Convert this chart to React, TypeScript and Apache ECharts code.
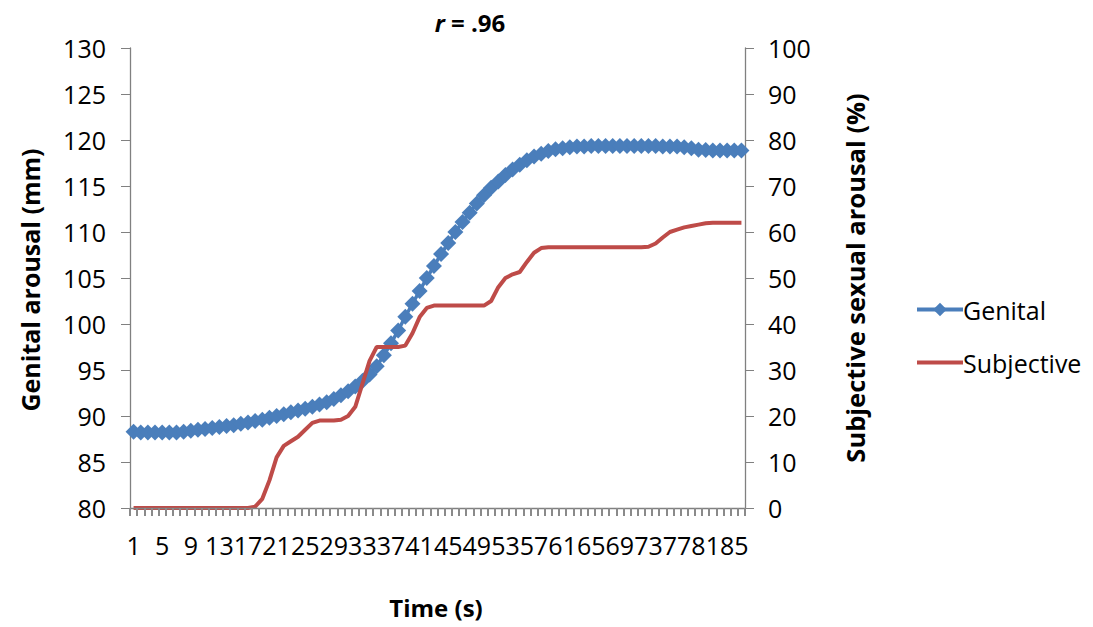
import React, { useEffect, useRef } from "react";
import * as echarts from "echarts";

const categories: string[] = Array.from({ length: 86 }, (_, i) => String(i + 1));

const genital: number[] = [
  88.3, 88.2, 88.2, 88.2, 88.2, 88.2, 88.2, 88.3, 88.4, 88.5,
  88.6, 88.7, 88.8, 88.9, 89.0, 89.15, 89.3, 89.45, 89.6, 89.8,
  90.0, 90.2, 90.4, 90.6, 90.8, 91.0, 91.25, 91.5, 91.85, 92.25,
  92.7, 93.2, 93.8, 94.5, 95.4, 96.6, 97.9, 99.3, 100.8, 102.2,
  103.6, 105.0, 106.3, 107.6, 108.8, 110.0, 111.1, 112.1, 113.1, 114.0,
  114.8, 115.5, 116.2, 116.8, 117.3, 117.8, 118.2, 118.5, 118.8, 119.0,
  119.1, 119.2, 119.3, 119.3, 119.35, 119.35, 119.35, 119.35, 119.35, 119.35,
  119.35, 119.35, 119.35, 119.35, 119.3, 119.3, 119.3, 119.2, 119.1, 118.95,
  118.9, 118.85, 118.85, 118.85, 118.85, 118.85,
];

const subjective: number[] = [
  0, 0, 0, 0, 0, 0, 0, 0, 0, 0,
  0, 0, 0, 0, 0, 0, 0, 0.3, 2, 6,
  11, 13.5, 14.5, 15.5, 17, 18.5, 19, 19, 19, 19.2,
  20, 22, 27, 32, 35, 35, 35, 35, 35.3, 38,
  41.5, 43.5, 44, 44, 44, 44, 44, 44, 44, 44,
  45, 48, 50, 50.8, 51.3, 53.5, 55.5, 56.5, 56.7, 56.7,
  56.7, 56.7, 56.7, 56.7, 56.7, 56.7, 56.7, 56.7, 56.7, 56.7,
  56.7, 56.7, 56.8, 57.5, 58.8, 60, 60.5, 61, 61.3, 61.6,
  61.9, 62, 62, 62, 62, 62,
];

const leftTicks = { min: 80, max: 130, interval: 5 };
const rightTicks = { min: 0, max: 100, interval: 10 };

const FONT = "'Open Sans', 'DejaVu Sans', sans-serif";
const BLUE = "#4A7EBB";
const RED = "#BE4B48";
const AXIS = "#808080";
const TICK = "#8a8a8a";

export default function App() {
  const ref = useRef<HTMLDivElement>(null);
  useEffect(() => {
    if (!ref.current) return;
    const chart = echarts.init(ref.current, undefined, { renderer: "svg" });
    chart.setOption({
      animation: false,
      backgroundColor: "#ffffff",
      textStyle: { fontFamily: FONT },
      grid: { left: 130, right: 348, top: 48, bottom: 119, containLabel: false },
      legend: {
        orient: "vertical",
        left: 910,
        top: 292,
        itemWidth: 46,
        itemHeight: 17,
        itemGap: 28,
        textStyle: { fontFamily: FONT, fontSize: 25, color: "#000", padding: [0, 0, 0, -5] },
        data: [
          { name: "Genital", lineStyle: { width: 4, color: BLUE } },
          { name: "Subjective", lineStyle: { width: 4, color: RED }, itemStyle: { opacity: 0 } },
        ],
      },
      xAxis: {
        type: "category",
        data: categories,
        boundaryGap: true,
        axisLine: { show: true, onZero: false, lineStyle: { color: AXIS, width: 1.3 } },
        axisTick: {
          show: true,
          interval: 0,
          length: 8,
          inside: false,
          alignWithLabel: false,
          lineStyle: { color: TICK, width: 2 },
        },
        axisLabel: { interval: 3, fontFamily: FONT, fontSize: 25, color: "#000", margin: 24 },
        splitLine: { show: false },
        z: 10,
      },
      yAxis: [
        {
          type: "value",
          position: "left",
          min: leftTicks.min,
          max: leftTicks.max,
          interval: leftTicks.interval,
          axisLine: { show: true, lineStyle: { color: AXIS, width: 1.3 } },
          axisTick: { show: true, length: 9, lineStyle: { color: AXIS } },
          axisLabel: { fontFamily: FONT, fontSize: 25, color: "#000", margin: 24 },
          splitLine: { show: false },
        },
        {
          type: "value",
          position: "right",
          min: rightTicks.min,
          max: rightTicks.max,
          interval: rightTicks.interval,
          axisLine: { show: true, lineStyle: { color: AXIS, width: 1.3 } },
          axisTick: { show: true, length: 9, lineStyle: { color: AXIS } },
          axisLabel: { fontFamily: FONT, fontSize: 25, color: "#000", margin: 23 },
          splitLine: { show: false },
        },
      ],
      series: [
        {
          name: "Genital",
          type: "line",
          xAxisIndex: 0,
          yAxisIndex: 0,
          data: genital,
          symbol: "diamond",
          symbolSize: 16,
          showSymbol: true,
          showAllSymbol: true,
          itemStyle: { color: BLUE, borderWidth: 0 },
          lineStyle: { color: BLUE, width: 3.5 },
          z: 2,
        },
        {
          name: "Subjective",
          type: "line",
          xAxisIndex: 0,
          yAxisIndex: 1,
          data: subjective,
          symbol: "none",
          itemStyle: { color: RED },
          lineStyle: { color: RED, width: 4 },
          z: 3,
        },
      ],
      graphic: [
        {
          type: "text",
          x: 470,
          y: 22,
          style: {
            text: "{i|r}{b| = .96}",
            textAlign: "center",
            textVerticalAlign: "middle",
            rich: {
              i: { fontFamily: FONT, fontSize: 24, fontWeight: "bold", fontStyle: "italic", fill: "#000" },
              b: { fontFamily: FONT, fontSize: 24, fontWeight: "bold", fill: "#000" },
            },
          },
        },
        {
          type: "text",
          x: 436,
          y: 607,
          style: {
            text: "Time (s)",
            font: `bold 24px ${FONT}`,
            fill: "#000",
            textAlign: "center",
            textVerticalAlign: "middle",
          },
        },
        {
          type: "text",
          x: 30,
          y: 280,
          rotation: Math.PI / 2,
          style: {
            text: "Genital arousal (mm)",
            font: `bold 25px ${FONT}`,
            fill: "#000",
            textAlign: "center",
            textVerticalAlign: "middle",
          },
        },
        {
          type: "text",
          x: 855,
          y: 278,
          rotation: Math.PI / 2,
          style: {
            text: "Subjective sexual arousal (%)",
            font: `bold 25.5px ${FONT}`,
            fill: "#000",
            textAlign: "center",
            textVerticalAlign: "middle",
          },
        },
      ],
    });
    return () => chart.dispose();
  }, []);
  return (
    <div
      ref={ref}
      style={{ position: "fixed", left: 0, top: 0, width: 1093, height: 627, background: "#fff" }}
    />
  );
}
